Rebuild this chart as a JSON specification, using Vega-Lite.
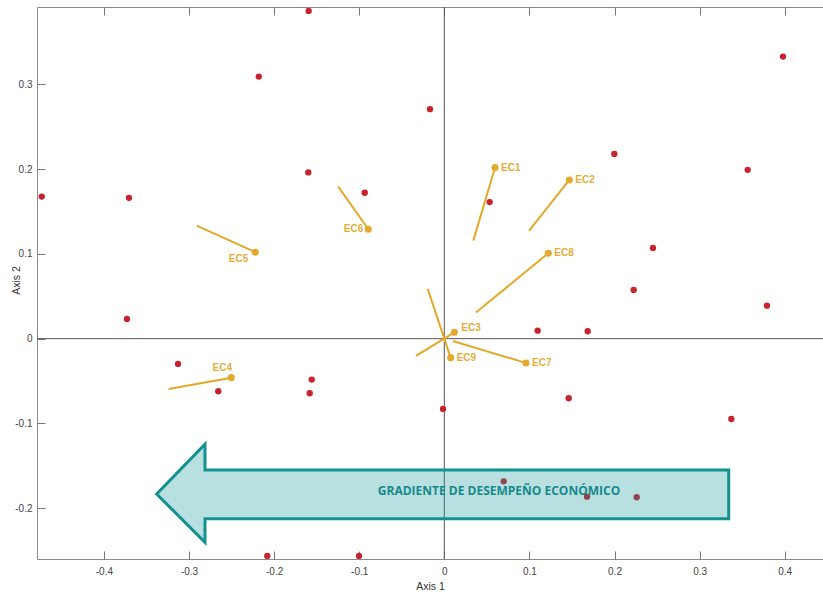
{
  "$schema": "https://vega.github.io/schema/vega-lite/v6.json",
  "autosize": {"type": "none"},
  "padding": {"left": 37, "top": 7, "right": 0, "bottom": 33},
  "width": 786,
  "height": 552,
  "background": "white",
  "config": {
    "view": {"stroke": "#8a8a8a", "strokeWidth": 1},
    "axis": {
      "grid": false,
      "domain": false,
      "tickColor": "#777777",
      "tickSize": -8,
      "labelFont": "Liberation Sans",
      "labelFontSize": 10,
      "labelColor": "#444444",
      "titleFont": "Liberation Sans",
      "titleFontSize": 10.5,
      "titleFontWeight": "normal",
      "titleColor": "#333333"
    }
  },
  "datasets": {
    "points": [
      {"x": -0.473, "y": 0.1675},
      {"x": -0.3705, "y": 0.166},
      {"x": -0.218, "y": 0.309},
      {"x": -0.1594, "y": 0.3864},
      {"x": -0.1598, "y": 0.196},
      {"x": -0.0935, "y": 0.172},
      {"x": -0.0168, "y": 0.2705},
      {"x": 0.398, "y": 0.3325},
      {"x": 0.1998, "y": 0.2178},
      {"x": 0.3565, "y": 0.199},
      {"x": 0.0533, "y": 0.161},
      {"x": 0.2452, "y": 0.107},
      {"x": 0.2225, "y": 0.0574},
      {"x": 0.3792, "y": 0.0389},
      {"x": 0.1097, "y": 0.0094},
      {"x": 0.1685, "y": 0.0087},
      {"x": -0.0015, "y": -0.0829},
      {"x": 0.1462, "y": -0.0703},
      {"x": 0.3373, "y": -0.0947},
      {"x": 0.0698, "y": -0.1682},
      {"x": 0.1677, "y": -0.1863},
      {"x": 0.2261, "y": -0.187},
      {"x": -0.3729, "y": 0.0232},
      {"x": -0.3129, "y": -0.0298},
      {"x": -0.2656, "y": -0.062},
      {"x": -0.1558, "y": -0.0483},
      {"x": -0.1582, "y": -0.0644},
      {"x": -0.208, "y": -0.2562},
      {"x": -0.1002, "y": -0.2562}
    ],
    "vectors": [
      {"label": "EC1", "x1": 0.0341, "y1": 0.1156, "x2": 0.0596, "y2": 0.2017},
      {"label": "EC2", "x1": 0.0995, "y1": 0.127, "x2": 0.1469, "y2": 0.1871},
      {"label": "EC8", "x1": 0.0372, "y1": 0.0307, "x2": 0.1222, "y2": 0.1007},
      {"label": "EC5", "x1": -0.291, "y1": 0.1333, "x2": -0.2221, "y2": 0.1019},
      {"label": "EC6", "x1": -0.1246, "y1": 0.1792, "x2": -0.0893, "y2": 0.129},
      {"label": "EC4", "x1": -0.3239, "y1": -0.0593, "x2": -0.2503, "y2": -0.046},
      {"label": "EC3", "x1": -0.0333, "y1": -0.0204, "x2": 0.0118, "y2": 0.0075},
      {"label": "EC9", "x1": -0.0195, "y1": 0.0586, "x2": 0.0075, "y2": -0.0224},
      {"label": "EC7", "x1": 0.0099, "y1": -0.0027, "x2": 0.096, "y2": -0.0287}
    ],
    "arrow": [
      {"ax": -0.338, "ay": -0.1831, "o": 1},
      {"ax": -0.2812, "ay": -0.1245, "o": 2},
      {"ax": -0.2812, "ay": -0.1548, "o": 3},
      {"ax": 0.3342, "ay": -0.1548, "o": 4},
      {"ax": 0.3342, "ay": -0.2123, "o": 5},
      {"ax": -0.2812, "ay": -0.2123, "o": 6},
      {"ax": -0.2812, "ay": -0.2401, "o": 7}
    ],
    "caption": [
      {"tx": 0.0643, "ty": -0.1796, "text": "GRADIENTE DE DESEMPEÑO ECONÓMICO"}
    ],
    "zero": [{"z": 0}]
  },
  "resolve": {"axis": {"x": "independent"}},
  "layer": [
    {
      "data": {"name": "zero"},
      "mark": {"type": "rule", "color": "#555555", "strokeWidth": 1},
      "encoding": {
        "x": {"field": "z", "type": "quantitative",
          "scale": {"domain": [-0.4786, 0.445], "nice": false, "zero": false},
          "axis": {"orient": "top", "title": null, "labels": false,
            "values": [-0.4, -0.3, -0.2, -0.1, 0, 0.1, 0.2, 0.3, 0.4]}}
      }
    },
    {
      "data": {"name": "zero"},
      "mark": {"type": "rule", "color": "#555555", "strokeWidth": 1},
      "encoding": {
        "y": {"field": "z", "type": "quantitative",
          "scale": {"domain": [-0.2598, 0.391], "nice": false, "zero": false},
          "axis": {"title": "Axis 2", "values": [-0.2, -0.1, 0, 0.1, 0.2, 0.3],
            "labelExpr": "'' + datum.value", "labelPadding": 13,
            "titleX": -16, "titleY": 273, "titleBaseline": "bottom", "titleAngle": -90, "titleAlign": "center"}}
      }
    },
    {
      "data": {"name": "points"},
      "mark": {"type": "point", "filled": true, "shape": "circle", "size": 40, "color": "#c8222f", "opacity": 1},
      "encoding": {
        "x": {"field": "x", "type": "quantitative",
          "axis": {"orient": "bottom", "title": "Axis 1",
            "values": [-0.4, -0.3, -0.2, -0.1, 0, 0.1, 0.2, 0.3, 0.4],
            "labelExpr": "'' + datum.value", "labelPadding": 15, "titlePadding": 5}},
        "y": {"field": "y", "type": "quantitative"}
      }
    },
    {
      "data": {"name": "arrow"},
      "mark": {"type": "line", "interpolate": "linear-closed", "fill": "#16989b", "fillOpacity": 0.3,
        "stroke": "#13918f", "strokeWidth": 3, "strokeJoin": "miter"},
      "encoding": {
        "x": {"field": "ax", "type": "quantitative", "axis": null},
        "y": {"field": "ay", "type": "quantitative"},
        "order": {"field": "o", "type": "quantitative"}
      }
    },
    {
      "data": {"name": "caption"},
      "mark": {"type": "text", "font": "Open Sans", "fontWeight": "bold", "fontSize": 12,
        "color": "#17898b", "align": "center", "baseline": "middle"},
      "encoding": {
        "x": {"field": "tx", "type": "quantitative", "axis": null},
        "y": {"field": "ty", "type": "quantitative"},
        "text": {"field": "text"}
      }
    },
    {
      "data": {"name": "vectors"},
      "mark": {"type": "rule", "color": "#e2a92b", "strokeWidth": 2},
      "encoding": {
        "x": {"field": "x1", "type": "quantitative", "axis": null},
        "y": {"field": "y1", "type": "quantitative"},
        "x2": {"field": "x2"},
        "y2": {"field": "y2"}
      }
    },
    {
      "data": {"name": "vectors"},
      "mark": {"type": "point", "filled": true, "shape": "circle", "size": 50, "color": "#e2a92b", "opacity": 1},
      "encoding": {
        "x": {"field": "x2", "type": "quantitative", "axis": null},
        "y": {"field": "y2", "type": "quantitative"}
      }
    },
    {
      "data": {"name": "vectors"},
      "transform": [{"filter": "indexof(['EC1','EC2','EC8','EC9','EC7'], datum.label) >= 0"}],
      "mark": {"type": "text", "font": "Liberation Sans", "fontWeight": "bold", "fontSize": 10,
        "color": "#e3ad3a", "align": "left", "baseline": "middle", "dx": 6},
      "encoding": {
        "x": {"field": "x2", "type": "quantitative", "axis": null},
        "y": {"field": "y2", "type": "quantitative"},
        "text": {"field": "label"}
      }
    },
    {
      "data": {"name": "vectors"},
      "transform": [{"filter": "datum.label == 'EC3'"}],
      "mark": {"type": "text", "font": "Liberation Sans", "fontWeight": "bold", "fontSize": 10,
        "color": "#e3ad3a", "align": "left", "baseline": "middle", "dx": 7, "dy": -4},
      "encoding": {
        "x": {"field": "x2", "type": "quantitative", "axis": null},
        "y": {"field": "y2", "type": "quantitative"},
        "text": {"field": "label"}
      }
    },
    {
      "data": {"name": "vectors"},
      "transform": [{"filter": "datum.label == 'EC5'"}],
      "mark": {"type": "text", "font": "Liberation Sans", "fontWeight": "bold", "fontSize": 10,
        "color": "#e3ad3a", "align": "right", "baseline": "middle", "dx": -7, "dy": 7},
      "encoding": {
        "x": {"field": "x2", "type": "quantitative", "axis": null},
        "y": {"field": "y2", "type": "quantitative"},
        "text": {"field": "label"}
      }
    },
    {
      "data": {"name": "vectors"},
      "transform": [{"filter": "datum.label == 'EC6'"}],
      "mark": {"type": "text", "font": "Liberation Sans", "fontWeight": "bold", "fontSize": 10,
        "color": "#e3ad3a", "align": "right", "baseline": "middle", "dx": -5, "dy": 0},
      "encoding": {
        "x": {"field": "x2", "type": "quantitative", "axis": null},
        "y": {"field": "y2", "type": "quantitative"},
        "text": {"field": "label"}
      }
    },
    {
      "data": {"name": "vectors"},
      "transform": [{"filter": "datum.label == 'EC4'"}],
      "mark": {"type": "text", "font": "Liberation Sans", "fontWeight": "bold", "fontSize": 10,
        "color": "#e3ad3a", "align": "center", "baseline": "middle", "dx": -9, "dy": -10},
      "encoding": {
        "x": {"field": "x2", "type": "quantitative", "axis": null},
        "y": {"field": "y2", "type": "quantitative"},
        "text": {"field": "label"}
      }
    }
  ]
}
